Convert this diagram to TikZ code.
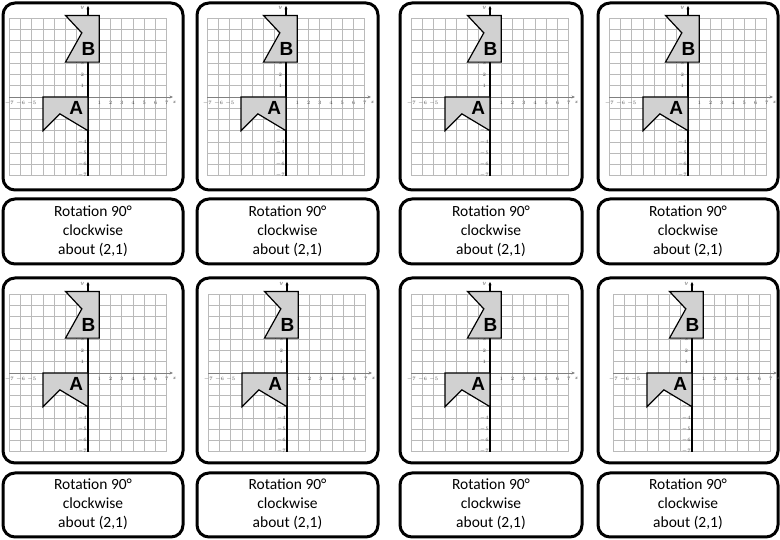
\documentclass[tikz,border=0pt]{standalone}
\usepackage{fontspec}
\setmainfont{Carlito}
\newfontfamily\letterfont{Liberation Sans}
\usetikzlibrary{arrows.meta}
\newcommand\drawcard[7]{%
  \node[cardbox, anchor=south west, minimum width={(#3-#2)*1pt}, minimum height={(#4-#5)*1pt}] (#1) at (#2,#5) {};
  \begin{scope}[shift={(#6,#7)}, x=11.25pt, y=11.25pt]
    \foreach \k in {-7,...,7} {
      \draw[gridline] (\k,-7) -- (\k,7);
      \draw[gridline] (-7,\k) -- (7,\k);
    }
    \draw[xaxisline] (-7,0) -- (7.55,0);
    \foreach \n in {-7,-6,-5,1,2,3,4,5,6,7} \node[ticklbl] (#1x\n) at (\n,-0.55) {$\n$};
    \foreach \n in {1,2,3,-3,-4,-5,-6,-7} \node[ticklbl] (#1y\n) at (-0.5,\n) {$\n$};
    \node[ticklbl] (#1yl) at (-0.5,7.95) {$y$};
    \node[ticklbl] (#1xl) at (7.7,-0.5) {$x$};
    \draw[yaxisline] (0,-7) -- (0,8.1);
    \draw[shapefill] (-4,0) -- (0,0) -- (0,-3) -- (-2.5,-1.5) -- (-4,-3) -- cycle;
    \draw[shapefill] (-2,7.25) -- (1,7.25) -- (1,3.1) -- (-2,3.1) -- (-0.55,5.7) -- cycle;
    \node[biglbl] (#1A) at (-1.05,-1) {A};
    \node[biglbl] (#1B) at (0.05,4.3) {B};
  \end{scope}
}
\newcommand\drawcaption[5]{%
  \node[cardbox, anchor=south west, minimum width={(#3-#2)*1pt}, minimum height={(#4-#5)*1pt}] (#1) at (#2,#5) {};
  \node[caption] (#1c) at ([yshift=0.5pt]#1.center) {Rotation 90°\\clockwise\\about (2,1)};
}
\begin{document}
\begin{tikzpicture}[x=1pt,y=1pt,
  cardbox/.style={draw=black, line width=3pt, rounded corners=12pt, fill=white, inner sep=0pt, outer sep=0pt},
  gridline/.style={draw=black!27, line width=0.6pt},
  yaxisline/.style={draw=black, line width=1.3pt, -{Stealth[length=3.5pt,width=3pt]}},
  xaxisline/.style={draw=black!50, line width=0.7pt, -{Stealth[length=3.5pt,width=3pt]}},
  ticklbl/.style={font=\fontsize{4.5}{5}\selectfont, text=black!70, inner sep=0pt},
  shapefill/.style={fill=black!18, draw=black, line width=1.2pt, line join=miter},
  biglbl/.style={font=\letterfont\bfseries\fontsize{19}{19}\selectfont, inner sep=0pt},
  caption/.style={font=\fontsize{15.5}{19}\selectfont, align=center, inner sep=0pt}
]
\useasboundingbox (0,0) rectangle (780,540);
\fill[white] (0,0) rectangle (780,540);
\foreach \i/\xl/\xr/\ax in {1/3/183/88, 2/197/378/286, 3/400/582/490, 4/598/778/688} {
  \drawcard{pa\i}{\xl}{\xr}{537}{350}{\ax}{443}
  \drawcaption{ta\i}{\xl}{\xr}{341}{276}
}
\foreach \i/\xl/\xr/\ax in {1/3/183/88, 2/197/378/287, 3/400/582/490, 4/598/778/692} {
  \drawcard{pb\i}{\xl}{\xr}{262}{77}{\ax}{167}
  \drawcaption{tb\i}{\xl}{\xr}{67}{3}
}
\end{tikzpicture}
\end{document}
